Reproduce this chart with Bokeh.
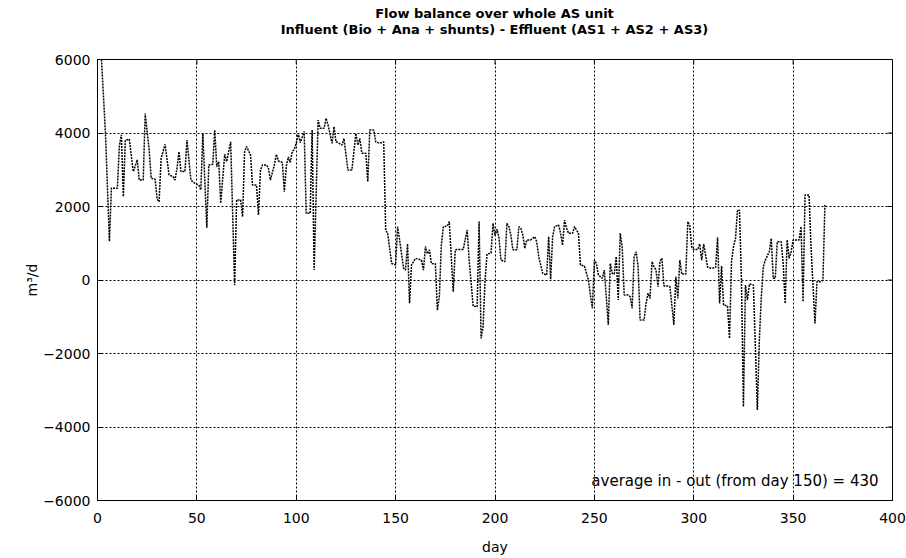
from bokeh.plotting import figure
from bokeh.layouts import column
from bokeh.models import Range1d, Label, FixedTicker, ColumnDataSource, Div
from bokeh.embed import file_html
from bokeh.resources import INLINE

# Daily flow balance, influent minus effluent (m3/d), by day number
days = [2, 4, 6, 7, 10, 11, 12, 13, 14, 16, 18, 20, 21, 23, 24, 26, 27, 29, 30, 31,
        32, 34, 36, 38, 39, 40, 41, 42, 44, 45, 47, 49, 51, 52, 53, 55, 56, 58, 59, 60,
        61, 62, 64, 65, 67, 69, 70, 72, 73, 74, 75, 77, 78, 80, 81, 82, 83, 85, 86, 87,
        89, 90, 91, 93, 94, 95, 96, 97, 98, 99, 100, 101, 102, 104, 105, 107, 108, 109, 111, 112,
        114, 115, 116, 118, 119, 120, 121, 123, 124, 126, 128, 130, 131, 132, 133, 135, 136, 137, 139, 140,
        142, 144, 145, 146, 148, 150, 151, 152, 154, 155, 156, 157, 158, 160, 162, 163, 164, 165, 166, 167,
        168, 170, 171, 172, 173, 174, 176, 177, 179, 180, 181, 184, 186, 187, 189, 191, 192, 193, 194, 195,
        196, 198, 199, 200, 201, 202, 203, 205, 206, 207, 208, 209, 211, 212, 213, 214, 215, 216, 218, 220,
        221, 222, 224, 226, 227, 228, 229, 230, 232, 233, 234, 235, 236, 237, 239, 240, 242, 243, 245, 247,
        248, 249, 250, 251, 252, 253, 254, 255, 257, 258, 259, 260, 261, 262, 263, 264, 265, 267, 268, 269,
        270, 271, 272, 273, 275, 276, 277, 278, 279, 280, 281, 282, 283, 284, 285, 287, 288, 290, 291, 292,
        293, 294, 296, 297, 298, 299, 300, 302, 303, 304, 305, 307, 309, 311, 312, 313, 314, 315, 317, 318,
        319, 320, 321, 322, 323, 324, 325, 326, 327, 328, 330, 331, 332, 333, 334, 335, 336, 338, 339, 340,
        341, 342, 344, 345, 346, 347, 348, 349, 350, 353, 354, 355, 356, 358, 359, 361, 362, 364, 365, 366]

balance = [6000, 4000, 1050, 2500, 2500, 3650, 3950, 2270, 3800, 3830, 2950, 3270, 2720, 2720, 4530, 3540, 2770, 2740, 2200, 2130,
           3310, 3690, 2860, 2810, 2720, 3040, 3490, 2950, 2950, 3810, 2720, 2630, 2585, 2450, 3990, 1420, 3130, 3150, 4080, 3080,
           3220, 2090, 3420, 3220, 3760, -140, 2180, 2180, 1720, 3490, 3630, 3400, 2585, 2585, 1770, 2990, 3130, 3130, 3040, 2720,
           3130, 3420, 3240, 3200, 2400, 3100, 3350, 3200, 3500, 3550, 3720, 3990, 3740, 4040, 1815, 1815, 4080, 270, 4350, 4130,
           4130, 4400, 4220, 3720, 4170, 3760, 3740, 3670, 3850, 2990, 2990, 3990, 3670, 3850, 3450, 3450, 2675, 4080, 4080, 3760,
           3720, 3760, 1360, 1270, 450, 410, 1450, 1090, 320, 270, 980, -630, 410, 590, 560, 540, 270, 910, 710, 820,
           450, 440, -820, -450, 950, 1450, 1470, 1590, -320, 820, 830, 830, 1360, 540, -710, -730, 1590, -1590, -1270, 0,
           710, 730, 1540, 1200, 1380, 1150, 540, 500, 1540, 1450, 1220, 820, 820, 1450, 1410, 1220, 860, 1090, 1090, 1180,
           1040, 635, 180, 136, 1180, 18, 1180, 1450, 1500, 1270, 950, 1630, 1410, 1270, 1270, 1450, 1270, 410, 380, 0,
           -410, -770, 540, 450, 136, 90, 45, 270, -1220, 450, 180, 160, 635, -545, 1270, 900, -410, -410, -450, -770,
           635, 770, 360, -1090, -1090, -635, -360, -500, 500, 360, 270, -180, 500, 590, -160, -160, -180, -1220, 90, -500,
           540, 160, 160, 1590, 1470, 900, 830, 830, 980, 540, 980, 345, 320, 345, 1160, -635, 380, -680, -710, -1590,
           500, 900, 1130, 1900, 1900, 0, -3450, -136, -545, -110, -136, -1815, -3540, -1630, -450, 360, 540, 770, 1130, 45,
           45, 1040, 1040, 450, -635, 1090, 590, 770, 1090, 1090, 1450, -590, 2310, 2310, 900, -1180, -45, -45, 0, 2040]

x_ticks = [0, 50, 100, 150, 200, 250, 300, 350, 400]
y_ticks = [-6000, -4000, -2000, 0, 2000, 4000, 6000]

title_lines = ["Flow balance over whole AS unit",
               "Influent (Bio + Ana + shunts) - Effluent (AS1 + AS2 + AS3)"]

FONT = "DejaVu Sans"
X0, X1, Y0, Y1 = 0, 400, -6000, 6000
W, H_TITLE, H_PLOT = 906, 50, 508
LEFT, RIGHT, TOP, BOTTOM = 97, 14, 9, 58

# Title block: two centred bold lines over the middle of the plot box
title_html = "<br>".join(title_lines)
header = Div(text=title_html, width=W, height=H_TITLE, margin=0,
             styles={"font-family": FONT, "font-size": "13px", "font-weight": "bold",
                     "line-height": "16px", "text-align": "center", "color": "black",
                     "box-sizing": "border-box", "padding-top": "6px",
                     "padding-left": f"{LEFT - RIGHT}px", "width": f"{W}px",
                     "background": "white"})

p = figure(width=W, height=H_PLOT,
           x_range=Range1d(X0, X1), y_range=Range1d(Y0, Y1),
           output_backend="svg", toolbar_location=None,
           min_border_left=LEFT, min_border_right=RIGHT,
           min_border_top=TOP, min_border_bottom=BOTTOM, margin=0)

p.background_fill_color = "white"
p.border_fill_color = "white"
p.outline_line_color = "black"
p.outline_line_width = 1

def style_axis(ax):
    ax.axis_line_color = "black"
    ax.major_tick_line_color = "black"
    ax.major_tick_in = 5
    ax.major_tick_out = 0
    ax.minor_tick_line_color = None
    ax.major_label_text_font = FONT
    ax.major_label_text_color = "black"
    ax.major_label_text_font_size = "14px"
    ax.axis_label_text_font = FONT
    ax.axis_label_text_font_size = "14px"
    ax.axis_label_text_font_style = "normal"
    ax.axis_label_text_color = "black"

p.xaxis.ticker = FixedTicker(ticks=x_ticks)
p.yaxis.ticker = FixedTicker(ticks=y_ticks)
style_axis(p.xaxis[0])
style_axis(p.yaxis[0])
p.xaxis.axis_label = "day"
p.yaxis.axis_label = "m³/d"
p.xaxis.major_label_standoff = 12
p.yaxis.major_label_standoff = 7
p.xaxis.axis_label_standoff = 13
p.yaxis.axis_label_standoff = 0

p.grid.grid_line_color = "black"
p.grid.grid_line_dash = "2 2"
p.grid.grid_line_width = 1
p.xgrid.ticker = FixedTicker(ticks=x_ticks)
p.ygrid.ticker = FixedTicker(ticks=y_ticks)

# Inward tick marks along the top and right edges of the box
tick_dy = 136   # about 5 px in y data units
tick_dx = 2.5   # about 5 px in x data units
p.segment(x0=x_ticks, y0=[Y1] * len(x_ticks), x1=x_ticks, y1=[Y1 - tick_dy] * len(x_ticks),
          line_color="black", line_width=1)
p.segment(x0=[X1] * len(y_ticks), y0=y_ticks, x1=[X1 - tick_dx] * len(y_ticks), y1=y_ticks,
          line_color="black", line_width=1)

src = ColumnDataSource(data=dict(day=days, balance=balance))
p.line("day", "balance", source=src, line_color="black", line_width=1.5, line_dash="2 1")

p.add_layout(Label(x=393, y=-5470, text="average in - out (from day 150) = 430",
                   text_align="right", text_baseline="middle",
                   text_font=FONT, text_font_size="15px", text_color="black"))

layout = column(header, p, spacing=0)
open("out.html", "w").write(file_html(layout, INLINE))
